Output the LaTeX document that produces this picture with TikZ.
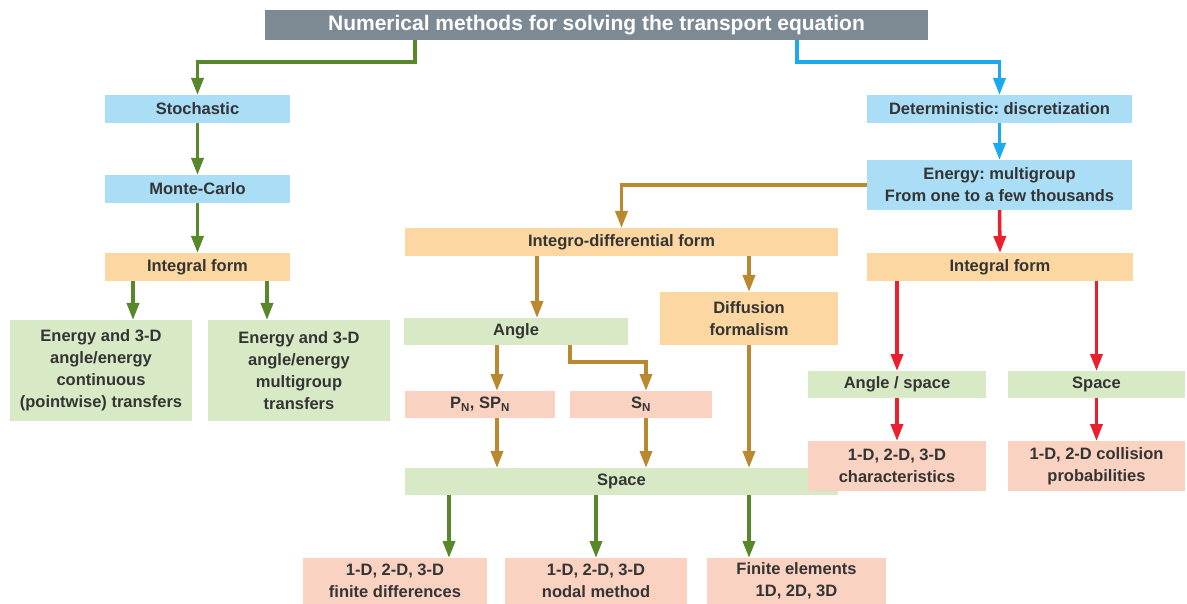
\documentclass[tikz,border=0pt]{standalone}
\usepackage{fontspec}
\setmainfont{Liberation Sans}
\frenchspacing
\usetikzlibrary{arrows.meta}
\definecolor{titlegray}{RGB}{125,138,147}
\definecolor{boxblue}{RGB}{170,221,246}
\definecolor{boxorange}{RGB}{253,215,162}
\definecolor{boxgreen}{RGB}{216,233,198}
\definecolor{boxpink}{RGB}{250,210,193}
\definecolor{arrgreen}{RGB}{88,136,42}
\definecolor{arrblue}{RGB}{28,170,238}
\definecolor{arrbrown}{RGB}{186,136,46}
\definecolor{arrred}{RGB}{234,32,46}
\definecolor{txt}{RGB}{52,52,52}
\begin{document}
\begin{tikzpicture}[x=1pt, y=-1pt,
  every node/.style={inner sep=0pt, outer sep=0pt, align=center, text=txt,
    font=\fontsize{16.5}{22}\selectfont\bfseries},
  bluebox/.style={fill=boxblue, minimum height=28},
  orangebox/.style={fill=boxorange, minimum height=28},
  greenbox/.style={fill=boxgreen, minimum height=27},
  pinkbox/.style={fill=boxpink, minimum height=27},
  conn/.style={line width=3.5pt, -{Triangle[width=12pt,length=17pt]}},
  garrow/.style={conn, arrgreen},
  barrow/.style={conn, arrblue},
  brarrow/.style={conn, arrbrown},
  rarrow/.style={conn, arrred}]
\useasboundingbox (0,0) rectangle (1187,604);

% Title
\node[fill=titlegray, text=white, minimum width=663, minimum height=30,
  font=\fontsize{21}{24}\selectfont\bfseries] (title) at (596.5,25)
  {Numerical methods for solving the transport equation};

% Stochastic branch
\node[bluebox, minimum width=185] (stoch) at (197.5,109) {Stochastic};
\node[bluebox, minimum width=185] (mc) at (197.5,189) {Monte-Carlo};
\node[orangebox, minimum width=185] (intL) at (197.5,267) {Integral form};
\node[greenbox, minimum width=182, minimum height=101] (contL) at (101,370.5)
  {Energy and 3-D\\angle/energy\\continuous\\(pointwise) transfers};
\node[greenbox, minimum width=182, minimum height=101] (multiL) at (299,370.5)
  {Energy and 3-D\\angle/energy\\multigroup\\transfers};

% Deterministic branch
\node[bluebox, minimum width=265] (det) at (999.5,109) {Deterministic: discretization};
\node[bluebox, minimum width=265, minimum height=50] (egy) at (999.5,185)
  {Energy: multigroup\\From one to a few thousands};
\node[orangebox, minimum width=433] (intgd) at (621.5,242) {Integro-differential form};
\node[orangebox, minimum width=266] (intR) at (1000,267) {Integral form};
\node[orangebox, minimum width=178, minimum height=53] (diff) at (749,318.5)
  {Diffusion\\formalism};

% Integro-differential form
\node[greenbox, minimum width=224] (angle) at (516,331.5) {Angle};
\node[pinkbox, minimum width=150] (pn) at (480,404.5)
  {P\textsubscript{N}, SP\textsubscript{N}};
\node[pinkbox, minimum width=142] (sn) at (641,404.5) {S\textsubscript{N}};
\node[greenbox, minimum width=433] (space) at (621.5,481.5) {Space};
\node[pinkbox, minimum width=184, minimum height=46] (fd) at (395,581)
  {1-D, 2-D, 3-D\\finite differences};
\node[pinkbox, minimum width=182, minimum height=46] (nodal) at (596,581)
  {1-D, 2-D, 3-D\\nodal method};
\node[pinkbox, minimum width=179, minimum height=46] (fe) at (796.5,581)
  {Finite elements\\1D, 2D, 3D};

% Integral form (right)
\node[greenbox, minimum width=178] (angsp) at (897,384.5) {Angle / space};
\node[greenbox, minimum width=177] (spR) at (1096.5,384.5) {Space};
\node[pinkbox, minimum width=178, minimum height=50] (char) at (897,466)
  {1-D, 2-D, 3-D\\characteristics};
\node[pinkbox, minimum width=177, minimum height=50] (coll) at (1096.5,466)
  {1-D, 2-D collision\\probabilities};

% Arrows from the title
\draw[garrow] ([xshift=-181.5]title.south) -- ++(0,22) -| (stoch.north);
\draw[barrow] ([xshift=200.5]title.south) -- ++(0,22) -| (det.north);

% Stochastic arrows
\draw[garrow] (stoch.south) -- (mc.north);
\draw[garrow] (mc.south) -- (intL.north);
\draw[garrow] ([xshift=-64.5]intL.south) -- ([xshift=32]contL.north);
\draw[garrow] ([xshift=69.5]intL.south) -- ([xshift=-32]multiL.north);

% Deterministic arrows
\draw[barrow] (det.south) -- (egy.north);
\draw[rarrow] (egy.south) -- (intR.north);
\draw[brarrow] (egy.west) -| (intgd.north);
\draw[brarrow] ([xshift=-84.5]intgd.south) -- ([xshift=21]angle.north);
\draw[brarrow] (diff.north |- intgd.south) -- (diff.north);
\draw[brarrow] ([xshift=-19]angle.south) -- ([xshift=17]pn.north);
\draw[brarrow] ([xshift=54]angle.south) -- ++(0,17) -| ([xshift=5]sn.north);
\draw[brarrow] ([xshift=17]pn.south) -- ([xshift=17]pn.south |- space.north);
\draw[brarrow] ([xshift=5]sn.south) -- ([xshift=5]sn.south |- space.north);
\draw[brarrow] (diff.south) -- (diff.south |- space.north);
\draw[garrow] ([xshift=54]fd.north |- space.south) -- ([xshift=54]fd.north);
\draw[garrow] (nodal.north |- space.south) -- (nodal.north);
\draw[garrow] ([xshift=-47.5]fe.north |- space.south) -- ([xshift=-47.5]fe.north);
\draw[rarrow] (angsp.north |- intR.south) -- (angsp.north);
\draw[rarrow] (spR.north |- intR.south) -- (spR.north);
\draw[rarrow] (angsp.south) -- (char.north);
\draw[rarrow] (spR.south) -- (coll.north);
\end{tikzpicture}
\end{document}
